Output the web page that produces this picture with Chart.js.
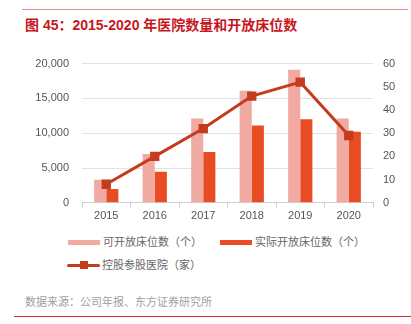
<!DOCTYPE html>
<html><head><meta charset="utf-8">
<script src="https://cdn.jsdelivr.net/npm/chart.js@4"></script>
<style>
body{margin:0;width:411px;height:324px;background:#fff;position:relative;overflow:hidden;font-family:"Liberation Sans","Noto Sans CJK SC",sans-serif;}
#topline{position:absolute;left:22px;top:9px;width:386px;height:1px;background:#e98b8b;}
#title{position:absolute;left:25px;top:16px;font-size:14px;font-weight:bold;color:#c8161d;line-height:18px;white-space:nowrap;}
#wrap{position:absolute;left:0;top:44px;width:411px;height:181px;}
.leg{position:absolute;font-size:11px;color:#666;line-height:14px;white-space:nowrap;}
.sw{position:absolute;}
#source{position:absolute;left:25px;top:295px;font-size:11px;color:#a0a0a0;white-space:nowrap;line-height:14px;}
#botline{position:absolute;left:14px;top:316px;width:397px;height:1px;background:#d9262b;}
</style></head><body>
<div id="topline"></div>
<div id="title">图 45：2015-2020 年医院数量和开放床位数</div>
<div id="wrap"><canvas id="c" width="411" height="181"></canvas></div>
<div id="legend"></div>
<div id="source">数据来源：公司年报、东方证券研究所</div>
<div id="botline"></div>
<script>
const categories = ['2015','2016','2017','2018','2019','2020'];
const availableBeds = [3300, 7000, 12100, 16100, 19100, 12100];
const actualBeds = [2000, 4450, 7300, 11100, 12000, 10200];
const hospitals = [8, 20, 32, 46, 52, 29];
const seriesNames = ['可开放床位数（个）','实际开放床位数（个）','控股参股医院（家）'];
const colors = ['#f0aaa1','#e84c22','#c43b1e'];

const ctx = document.getElementById('c');
new Chart(ctx, {
  data: {
    labels: categories,
    datasets: [
      {type:'line', label: seriesNames[2], data: hospitals, yAxisID:'y2', borderColor: colors[2], backgroundColor: colors[2], borderWidth:3, pointStyle:'rect', pointRadius:4.5, pointHoverRadius:4.5, order:0, tension:0},
      {type:'bar', label: seriesNames[0], data: availableBeds, yAxisID:'y', backgroundColor: colors[0], barPercentage:1, categoryPercentage:0.5, order:1},
      {type:'bar', label: seriesNames[1], data: actualBeds, yAxisID:'y', backgroundColor: colors[1], barPercentage:1, categoryPercentage:0.5, order:1}
    ]
  },
  options: {
    responsive:false, animation:false,
    layout:{padding:{top:0,bottom:0,left:0,right:0}},
    plugins:{legend:{display:false}, tooltip:{enabled:false}},
    scales:{
      x:{
        position:'bottom',
        grid:{offset:true, drawOnChartArea:false, drawTicks:true, tickLength:5, color:'#d0d0d0'},
        border:{display:true, color:'#d0d0d0'},
        ticks:{color:'#555', font:{family:'"Liberation Sans"', size:11}, padding:2}
      },
      y:{
        position:'left', min:0, max:20000,
        ticks:{stepSize:5000, color:'#555', font:{family:'"Liberation Sans"', size:11}, padding:13,
          callback:(v)=>v.toLocaleString('en-US')},
        grid:{color:'#e2e2e2', drawTicks:false},
        border:{display:false},
        afterFit:(s)=>{s.width=82;}
      },
      y2:{
        position:'right', min:0, max:60,
        ticks:{stepSize:10, color:'#555', font:{family:'"Liberation Sans"', size:11}, padding:10},
        grid:{drawOnChartArea:false, drawTicks:false},
        border:{display:false},
        afterFit:(s)=>{s.width=38;}
      }
    }
  }
});

// HTML legend built from the series names
const leg = document.getElementById('legend');
function addItem(x, y, i, kind){
  if(kind==='bar'){
    const sw=document.createElement('div'); sw.className='sw';
    sw.style.cssText=`left:${x}px;top:${y-2.5}px;width:32px;height:5px;background:${colors[i]}`;
    leg.appendChild(sw);
  } else {
    const sw=document.createElement('div'); sw.className='sw';
    sw.style.cssText=`left:${x}px;top:${y-1.5}px;width:33px;height:3px;background:${colors[i]};border-radius:1.5px`;
    leg.appendChild(sw);
    const mk=document.createElement('div'); mk.className='sw';
    mk.style.cssText=`left:${x+13}px;top:${y-4}px;width:8px;height:8px;background:${colors[i]}`;
    leg.appendChild(mk);
  }
  const t=document.createElement('div'); t.className='leg';
  t.style.left=(x+35)+'px'; t.style.top=(y-7)+'px'; t.textContent=seriesNames[i];
  leg.appendChild(t);
}
addItem(68, 242, 0, 'bar');
addItem(220, 242, 1, 'bar');
addItem(67, 265, 2, 'line');
</script>
</body></html>
